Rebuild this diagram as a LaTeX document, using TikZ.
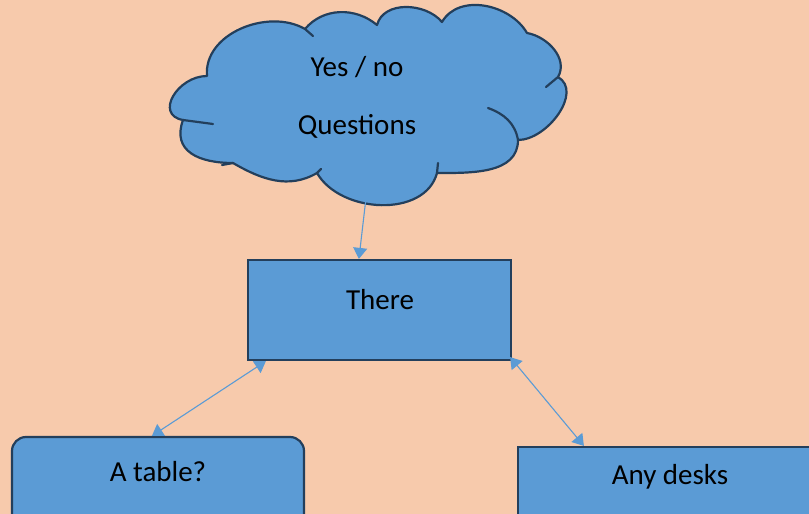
\documentclass[tikz,border=0pt]{standalone}
\usepackage{fontspec}
\setmainfont{Carlito}
\usetikzlibrary{arrows.meta,calc}
\definecolor{bgpeach}{HTML}{F7CAAC}
\definecolor{boxblue}{HTML}{5B9BD5}
\definecolor{boxline}{HTML}{233F5C}
\definecolor{arrowblue}{HTML}{5B9BD5}
\tikzset{
  boxstyle/.style={draw=boxline,fill=boxblue,line width=2.2pt,inner sep=0pt},
  txt/.style={font=\fontsize{29}{34}\selectfont,text=black,inner sep=0pt},
  conn/.style={draw=arrowblue,line width=1.1pt},
  tip/.tip={Triangle[width=14pt,length=11pt]}
}
\begin{document}
\begin{tikzpicture}[x=1pt,y=-1pt]
\useasboundingbox (0,0) rectangle (809,514);
\fill[bgpeach] (0,0) rectangle (809,514);
\clip (0,0) rectangle (809,514);
% cloud
\path[fill=boxblue,draw=boxline,line width=2.2pt,line join=round]
  (207,76) to[out=95,in=150] (305,29)
  to[out=50,in=140] (377,25)
  to[out=75,in=130] (442,22)
  to[out=60,in=120] (527,33)
  to[out=-10,in=60] (558,77)
  to[out=-30,in=0] (518,140)
  to[out=-90,in=0] (437,173)
  to[out=-105,in=-60] (317,173)
  to[out=-150,in=-30] (233,163)
  to[out=180,in=-110,looseness=1.3] (183,120)
  to[out=170,in=180,looseness=1.5] cycle;
\begin{scope}[draw=boxline,line width=2.2pt,line cap=round]
  \draw (305,29) -- (313,36);
  \draw (558,77) -- (546,87);
  \draw (488,108) to[out=-20,in=100] (518,140);
  \draw (437,173) -- (438,163);
  \draw (317,173) -- (321,169);
  \draw (233,163) -- (222,165);
  \draw (183,120) -- (213,124);
\end{scope}
\node[txt] (yesno) at (357,67) {Yes / no};
\node[txt] (questions) at (357,126) {Questions};
\coordinate (cloudbottom) at (366,198);
% boxes
\node[boxstyle,minimum width=263pt,minimum height=100pt] (there) at (379.5,310) {};
\node[txt] (theretxt) at (380,300) {There};
\node[boxstyle,rounded corners=14pt,minimum width=292pt,minimum height=110pt] (table) at (158,492) {};
\node[txt] (tabletxt) at (158,472) {A table?};
\node[boxstyle,minimum width=320pt,minimum height=110pt] (desks) at (678,502) {};
\node[txt] (deskstxt) at (670,477) {Any desks};
% connectors
\draw[conn,-tip] (cloudbottom) -- ($(there.north west)+(112,0)$);
\draw[conn,tip-tip] ($(there.south west)+(19,0)$) -- ($(table.north west)+(141,0)$);
\draw[conn,tip-tip] ($(there.south east)+(-2,-4)$) -- ($(desks.north west)+(67,0)$);
\end{tikzpicture}
\end{document}
